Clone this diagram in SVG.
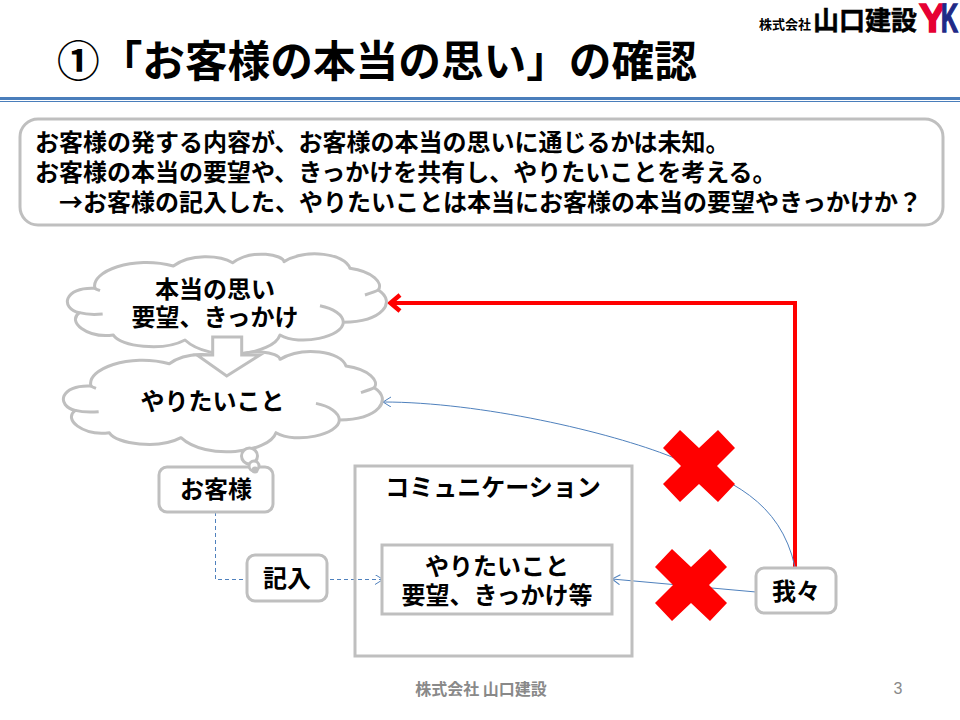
<svg xmlns="http://www.w3.org/2000/svg" width="960" height="720" viewBox="0 0 960 720">
<style>
text{font-family:"Noto Sans CJK JP","Noto Sans",sans-serif;font-weight:700;fill:#000}
.t24{font-size:24px}
.c{text-anchor:middle}
.box{fill:#fff;stroke:#bfbfbf;stroke-width:3}
.cloud{fill:#fff;stroke:#bfbfbf;stroke-width:9;stroke-linejoin:round}
.stub{fill:none;stroke:#bfbfbf;stroke-width:9}
.blue{fill:none;stroke:#4f81bd;stroke-width:1}
.dash{stroke-dasharray:4 3}
</style>
<defs>
<marker id="open" markerWidth="12" markerHeight="12" refX="9" refY="5" orient="auto" markerUnits="userSpaceOnUse"><path d="M1 0L9 5L1 10" fill="none" stroke="#4f81bd" stroke-width="1"/></marker>
<g id="cloudShape" transform="translate(50 240) scale(.3333)">
<path class="cloud" d="M135 145C120 95 250 45 370 78C420 40 510 45 548 68C610 25 700 45 702 65C770 25 885 40 900 85C970 95 1000 130 985 150C1040 185 1000 245 880 247C880 290 750 320 690 285C670 345 480 370 405 300C340 335 210 320 190 285C110 295 50 245 88 218C30 205 40 140 135 145Z"/>
<path class="stub" d="M135 145C138 148 145 150 150 152M88 218C110 224 135 224 158 222M945 165C960 160 975 155 985 150M810 197C850 205 880 225 880 247"/>
</g>
</defs>
<rect x="0" y="97" width="960" height="3" fill="#4a7ebb"/>
<rect x="0" y="101" width="960" height="1" fill="#4a7ebb"/>
<text x="57" y="77" font-size="42.67">①「お客様の本当の思い」の確認</text>
<g id="logo">
<text x="759" y="29" font-size="13" textLength="52" lengthAdjust="spacingAndGlyphs">株式会社</text>
<text x="813" y="30" font-size="26" textLength="104" lengthAdjust="spacingAndGlyphs" stroke="#000" stroke-width=".5">山口建設</text>
<text x="919" y="32" style="font-family:'Liberation Sans',sans-serif;fill:#e60033;stroke:#e60033;stroke-width:1.500" font-size="40" textLength="27" lengthAdjust="spacingAndGlyphs">Y</text>
<text x="941" y="32" style="font-family:'Liberation Sans',sans-serif;fill:#1f2a87;stroke:#1f2a87;stroke-width:1.500" font-size="40" textLength="17" lengthAdjust="spacingAndGlyphs">K</text>
</g>
<g id="description">
<rect class="box" x="20" y="119" width="923" height="106" rx="18"/>
<text class="t24" x="35" y="151">お客様の発する内容が、お客様の本当の思いに通じるかは未知。</text>
<text class="t24" x="35" y="181">お客様の本当の要望や、きっかけを共有し、やりたいことを考える。</text>
<text class="t24" x="59" y="211">→お客様の記入した、やりたいことは本当にお客様の本当の要望やきっかけか？</text>
</g>
<g id="connectors">
<path d="M795 567V303H392" fill="none" stroke="#f00" stroke-width="4"/>
<path d="M400 295L390.500 303L400 311" fill="none" stroke="#f00" stroke-width="4.500"/>
<path class="blue" d="M795 567C780 500 730 480 672 457C610 432 480 402 383 402" marker-end="url(#open)"/>
<path class="blue" d="M756 592L612 579" marker-end="url(#open)"/>
<path class="blue dash" d="M215.500 512V579.500H247"/>
<path class="blue dash" d="M330 579.500H383" marker-end="url(#open)"/>
</g>
<g id="cloud-hontou">
<use href="#cloudShape"/>
<text class="t24 c" x="215" y="298">本当の思い</text>
<text class="t24 c" x="215" y="326">要望、きっかけ</text>
</g>
<g id="cloud-yaritai">
<use href="#cloudShape" transform="translate(-4 97.700)"/>
<text class="t24 c" x="212.500" y="410">やりたいこと</text>
</g>
<polygon id="down-arrow" points="212.700,337 241.700,337 241.700,355 260,355 226.700,376 197,355 212.700,355" fill="#fff" stroke="#bfbfbf" stroke-width="3"/>
<g id="okyakusama">
<rect class="box" x="159" y="467" width="114" height="45" rx="8"/>
<circle class="box" cx="249.500" cy="456" r="8"/>
<circle class="box" cx="254" cy="466" r="5"/>
<circle cx="255" cy="470" r="3.500" fill="#bfbfbf"/>
<text class="t24 c" x="216" y="498">お客様</text>
</g>
<g id="kinyu">
<rect class="box" x="247" y="555" width="80" height="46" rx="8"/>
<text class="t24 c" x="287" y="587">記入</text>
</g>
<g id="communication">
<rect x="355" y="466" width="277" height="190" fill="none" stroke="#bfbfbf" stroke-width="3"/>
<text class="t24 c" x="493" y="496">コミュニケーション</text>
</g>
<g id="inner">
<rect class="box" x="382" y="545" width="230" height="69"/>
<text class="t24 c" x="497" y="575">やりたいこと</text>
<text class="t24 c" x="497" y="604">要望、きっかけ等</text>
</g>
<g id="wareware">
<rect class="box" x="756" y="568" width="80" height="45" rx="8"/>
<text class="t24 c" x="796" y="600">我々</text>
</g>
<polygon id="x1" transform="translate(699 466)" fill="#f00" points="-19,-36 0,-18 19,-36 36,-18 18,0 36,18 19,36 0,18 -19,36 -36,18 -18,0 -36,-18"/>
<polygon id="x2" transform="translate(691 585)" fill="#f00" points="-19,-36 0,-18 19,-36 36,-18 18,0 36,18 19,36 0,18 -19,36 -36,18 -18,0 -36,-18"/>
<g id="footer">
<text x="481" y="695" class="c" font-size="16" style="fill:#898989">株式会社 山口建設</text>
<text x="898" y="694" class="c" font-size="16" style="fill:#898989;font-weight:400;font-family:'Liberation Sans',sans-serif">3</text>
</g>
</svg>
